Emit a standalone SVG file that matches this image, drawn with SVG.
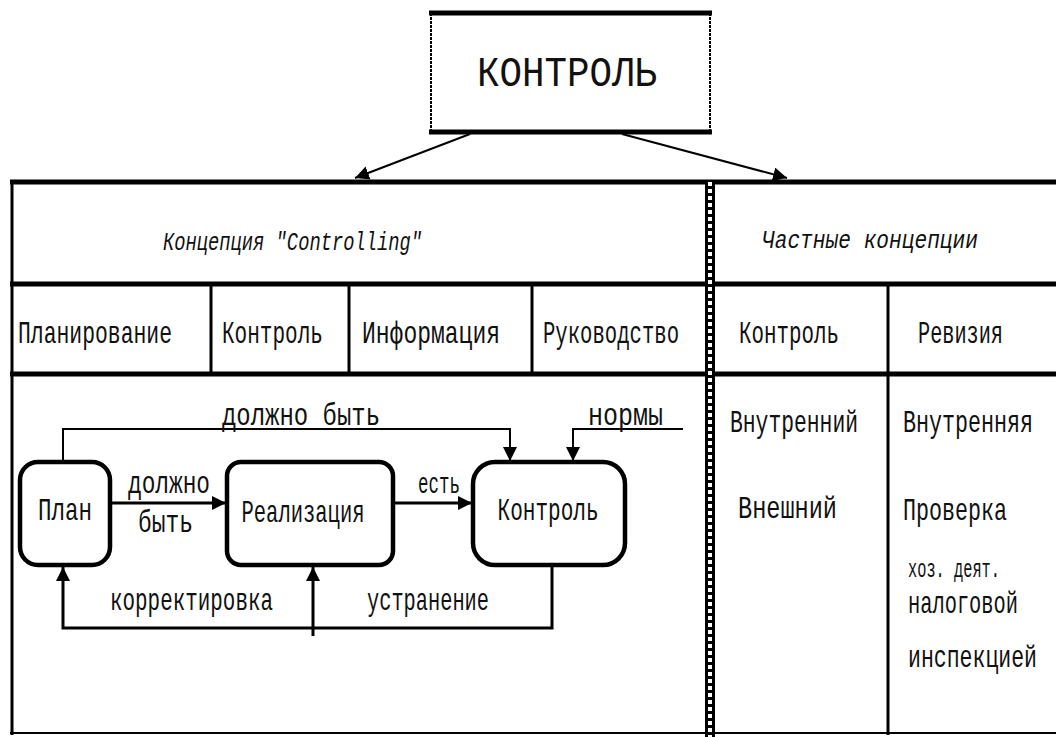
<svg xmlns="http://www.w3.org/2000/svg" width="1056" height="737" viewBox="0 0 1056 737">
<style>
.t{font-family:"Liberation Mono","DejaVu Sans Mono","Courier New",monospace;font-size:21px;fill:#111}
.it{font-family:"Liberation Mono","DejaVu Sans Mono","Courier New",monospace;font-size:19px;font-style:italic;fill:#111}
.thick{stroke:#000;stroke-width:5;fill:none}
.mid{stroke:#000;stroke-width:3;fill:none}
.thin{stroke:#000;stroke-width:2;fill:none}
.box{stroke:#000;stroke-width:4.5;fill:#fff}
</style>
<defs>
<marker id="ah" markerUnits="userSpaceOnUse" markerWidth="14" markerHeight="14" viewBox="0 0 10 10" refX="10" refY="5" orient="auto">
<path d="M0,0 L10,5 L0,10 z" fill="#000"/>
</marker>
</defs>
<rect width="1056" height="737" fill="#fff"/>

<g id="top-node">
<rect x="431" y="12" width="279" height="121" fill="#fff" stroke="#000" stroke-width="2" stroke-dasharray="3 1"/>
<line x1="429" y1="13" x2="712" y2="13" class="thick"/>
<line x1="429" y1="132" x2="712" y2="132" class="thick"/>
<text transform="translate(567,86) scale(1,1.15)" text-anchor="middle" class="t" style="font-size:37px" textLength="180" lengthAdjust="spacingAndGlyphs">КОНТРОЛЬ</text>
</g>

<g id="table">
<line x1="10" y1="182" x2="1056" y2="182" class="thick"/>
<line x1="12" y1="182" x2="12" y2="735" class="mid"/>
<line x1="10" y1="284" x2="1056" y2="284" class="thick"/>
<line x1="10" y1="374" x2="1056" y2="374" class="thick"/>
<line x1="10" y1="733" x2="1056" y2="733" class="thin"/>
<line x1="211" y1="284" x2="211" y2="374" class="mid"/>
<line x1="349" y1="284" x2="349" y2="374" class="mid"/>
<line x1="532" y1="284" x2="532" y2="374" class="mid"/>
<line x1="888" y1="284" x2="888" y2="735" class="mid"/>
<line x1="710" y1="182" x2="710" y2="737" stroke="#000" stroke-width="10"/>
<line x1="710" y1="182" x2="710" y2="737" stroke="#fff" stroke-width="4" stroke-dasharray="4 3"/>
</g>

<g id="header-left"><text transform="translate(163,250) scale(1,1.35)" class="it" textLength="259" lengthAdjust="spacingAndGlyphs">Концепция "Controlling"</text></g>
<g id="header-right"><text transform="translate(762,248) scale(1,1.35)" class="it" textLength="216" lengthAdjust="spacingAndGlyphs">Частные концепции</text></g>

<g id="col-planning"><text transform="translate(18,343) scale(1,1.45)" class="t" textLength="154" lengthAdjust="spacingAndGlyphs">Планирование</text></g>
<g id="col-control"><text transform="translate(222,343) scale(1,1.45)" class="t" textLength="101" lengthAdjust="spacingAndGlyphs">Контроль</text></g>
<g id="col-info"><text transform="translate(362,343) scale(1,1.45)" class="t" textLength="138" lengthAdjust="spacingAndGlyphs">Информация</text></g>
<g id="col-management"><text transform="translate(543,343) scale(1,1.45)" class="t" textLength="136" lengthAdjust="spacingAndGlyphs">Руководство</text></g>
<g id="col-control2"><text transform="translate(739,343) scale(1,1.45)" class="t" textLength="100" lengthAdjust="spacingAndGlyphs">Контроль</text></g>
<g id="col-revision"><text transform="translate(918,343) scale(1,1.45)" class="t" textLength="85" lengthAdjust="spacingAndGlyphs">Ревизия</text></g>

<g id="control-types">
<text transform="translate(730,432) scale(1,1.45)" class="t" textLength="128" lengthAdjust="spacingAndGlyphs">Внутренний</text>
<text transform="translate(738,518) scale(1,1.45)" class="t" textLength="99" lengthAdjust="spacingAndGlyphs">Внешний</text>
</g>
<g id="revision-types">
<text transform="translate(903,432) scale(1,1.45)" class="t" textLength="130" lengthAdjust="spacingAndGlyphs">Внутренняя</text>
<text transform="translate(903,520) scale(1,1.45)" class="t" textLength="104" lengthAdjust="spacingAndGlyphs">Проверка</text>
<text transform="translate(908,577) scale(1,1.6)" class="t" style="font-size:16px" textLength="92" lengthAdjust="spacingAndGlyphs">хоз. деят.</text>
<text transform="translate(908,613) scale(1,1.45)" class="t" textLength="110" lengthAdjust="spacingAndGlyphs">налоговой</text>
<text transform="translate(908,667) scale(1,1.45)" class="t" textLength="129" lengthAdjust="spacingAndGlyphs">инспекцией</text>
</g>

<g id="connectors">
<line x1="470" y1="134" x2="355" y2="178" class="thin" marker-end="url(#ah)"/>
<line x1="622" y1="134" x2="787" y2="178" class="thin" marker-end="url(#ah)"/>
<line x1="110" y1="503" x2="226" y2="503" class="mid" marker-end="url(#ah)"/>
<line x1="393" y1="503" x2="472" y2="503" class="mid" marker-end="url(#ah)"/>
<polyline points="63,462 63,429 510,429 510,461" class="thin" marker-end="url(#ah)"/>
<polyline points="683,429 573,429 573,461" class="thin" marker-end="url(#ah)"/>
<polyline points="552,566 552,628 63,628 63,567" class="mid" marker-end="url(#ah)"/>
<line x1="313" y1="636" x2="313" y2="567" class="mid" marker-end="url(#ah)"/>
<text transform="translate(222,425) scale(1,1.45)" class="t" textLength="158" lengthAdjust="spacingAndGlyphs">должно быть</text>
<text transform="translate(588,425) scale(1,1.45)" class="t" textLength="75" lengthAdjust="spacingAndGlyphs">нормы</text>
<text transform="translate(128,493) scale(1,1.45)" class="t" textLength="82" lengthAdjust="spacingAndGlyphs">должно</text>
<text transform="translate(138,532) scale(1,1.45)" class="t" textLength="55" lengthAdjust="spacingAndGlyphs">быть</text>
<text transform="translate(418,493) scale(1,1.6)" class="t" style="font-size:18px" textLength="42" lengthAdjust="spacingAndGlyphs">есть</text>
<text transform="translate(110,610) scale(1,1.45)" class="t" textLength="163" lengthAdjust="spacingAndGlyphs">корректировка</text>
<text transform="translate(367,610) scale(1,1.45)" class="t" textLength="122" lengthAdjust="spacingAndGlyphs">устранение</text>
</g>

<g id="node-plan">
<rect x="20" y="462" width="90" height="103" rx="18" class="box"/>
<text transform="translate(65,520) scale(1,1.45)" text-anchor="middle" class="t" textLength="54" lengthAdjust="spacingAndGlyphs">План</text>
</g>
<g id="node-realization">
<rect x="227" y="462" width="166" height="103" rx="14" class="box"/>
<text transform="translate(303,522) scale(1,1.45)" text-anchor="middle" class="t" textLength="123" lengthAdjust="spacingAndGlyphs">Реализация</text>
</g>
<g id="node-control">
<rect x="473" y="462" width="152" height="103" rx="22" class="box"/>
<text transform="translate(548,520) scale(1,1.45)" text-anchor="middle" class="t" textLength="101" lengthAdjust="spacingAndGlyphs">Контроль</text>
</g>
</svg>
